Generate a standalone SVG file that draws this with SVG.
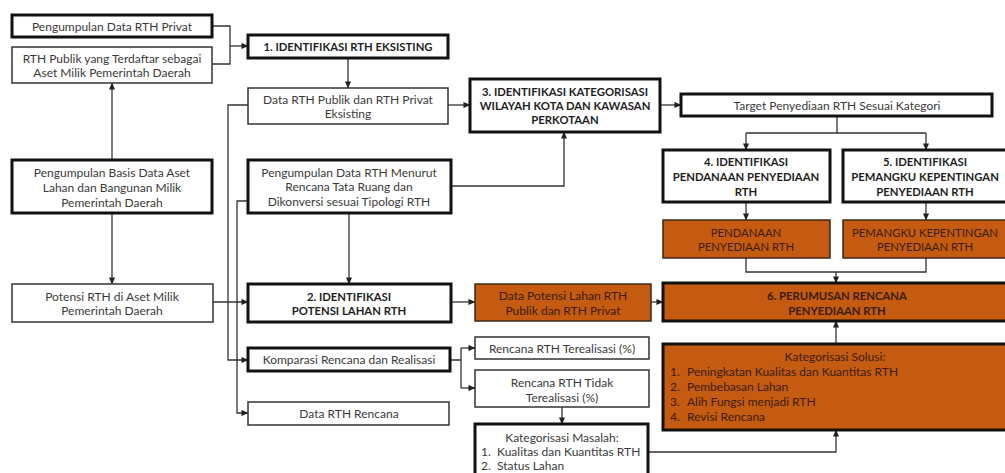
<svg xmlns="http://www.w3.org/2000/svg" width="1005" height="473" viewBox="0 0 1005 473">
<defs>
<marker id="ah" viewBox="0 0 8 8" refX="7.5" refY="4" markerWidth="7" markerHeight="7" markerUnits="userSpaceOnUse" orient="auto">
<path d="M0,0.5 L8,4 L0,7.5 z" fill="#222"/>
</marker>
<style>
text{font-family:Lato,"Open Sans","Liberation Sans",sans-serif;font-size:12px;fill:#3a3a3a;text-anchor:middle;dominant-baseline:central}
.b{font-weight:bold;fill:#1e1e1e;font-size:11.3px}
.cap{font-size:11.3px}
.o text{fill:#3a1d08}
.l{text-anchor:start}
.thin{fill:#fff;stroke:#333;stroke-width:1.5}
.thick{fill:#fff;stroke:#111;stroke-width:3}
.or{fill:#C55A11;stroke:#3a2a1a;stroke-width:1.5}
.ort{fill:#C55A11;stroke:#111;stroke-width:3}
.c path{fill:none;stroke:#333;stroke-width:1.3}
.c .a{marker-end:url(#ah)}
</style>
</defs>
<rect width="1005" height="473" fill="#fff"/>
<g class="c" id="connectors">
<path d="M212,26 H230 V64 H212"/>
<path class="a" d="M230,46 H248"/>
<path class="a" d="M112,160 V83"/>
<path class="a" d="M112,213 V284"/>
<path class="a" d="M213,302 H248"/>
<path class="a" d="M348,58 V88"/>
<path class="a" d="M448,105 H470"/>
<path class="a" d="M248,105 H228 V360 H248"/>
<path class="a" d="M248,201 H237 V413 H248"/>
<path class="a" d="M349,213 V284"/>
<path class="a" d="M451,186 H564 V132"/>
<path class="a" d="M660,105 H681"/>
<path d="M837,116 V133 M746,133 H926"/>
<path class="a" d="M746,133 V150"/>
<path class="a" d="M926,133 V150"/>
<path class="a" d="M746,202 V220"/>
<path class="a" d="M926,202 V220"/>
<path d="M746,258 V272 H926 V258"/>
<path class="a" d="M836,272 V283"/>
<path class="a" d="M451,302 H475"/>
<path class="a" d="M651,302 H663"/>
<path class="a" d="M836,344 V321"/>
<path class="a" d="M648,452 H836 V430"/>
<path d="M450,360 H461 M461,348 V388"/>
<path class="a" d="M461,348 H475"/>
<path class="a" d="M461,388 H475"/>
<path class="a" d="M562,407 V424"/>
</g>
<g id="n-privat"><rect class="thick" x="12" y="15" width="200" height="22"/><text x="112" y="26">Pengumpulan Data RTH Privat</text></g>
<g id="n-publik-aset"><rect class="thin" x="12" y="47" width="200" height="36"/><text x="112" y="58">RTH Publik yang Terdaftar sebagai</text><text x="112" y="72">Aset Milik Pemerintah Daerah</text></g>
<g id="n-basis"><rect class="thick" x="12" y="160" width="200" height="53"/><text x="112" y="172">Pengumpulan Basis Data Aset</text><text x="112" y="187">Lahan dan Bangunan Milik</text><text x="112" y="202">Pemerintah Daerah</text></g>
<g id="n-potensi-aset"><rect class="thin" x="12" y="284" width="201" height="38"/><text x="112" y="296">Potensi RTH di Aset Milik</text><text x="112" y="310">Pemerintah Daerah</text></g>
<g id="n-1"><rect class="thick" x="248" y="35" width="200" height="23"/><text class="b" x="348" y="46.5">1. IDENTIFIKASI RTH EKSISTING</text></g>
<g id="n-eksisting"><rect class="thin" x="248" y="88" width="200" height="36"/><text x="348" y="99">Data RTH Publik dan RTH Privat</text><text x="348" y="113">Eksisting</text></g>
<g id="n-menurut"><rect class="thick" x="248" y="160" width="203" height="53"/><text x="349" y="172">Pengumpulan Data RTH Menurut</text><text x="349" y="186.5">Rencana Tata Ruang dan</text><text x="349" y="201">Dikonversi sesuai Tipologi RTH</text></g>
<g id="n-2"><rect class="thick" x="248" y="284" width="203" height="38"/><text class="b" x="349" y="296">2. IDENTIFIKASI</text><text class="b" x="349" y="310">POTENSI LAHAN RTH</text></g>
<g id="n-komparasi"><rect class="thick" x="248" y="348" width="202" height="23"/><text x="349" y="359.5">Komparasi Rencana dan Realisasi</text></g>
<g id="n-rencana"><rect class="thin" x="248" y="402" width="201" height="23"/><text x="349" y="413.5">Data RTH Rencana</text></g>
<g id="n-3"><rect class="thick" x="470" y="79" width="190" height="53"/><text class="b" x="565" y="91">3. IDENTIFIKASI KATEGORISASI</text><text class="b" x="565" y="105">WILAYAH KOTA DAN KAWASAN</text><text class="b" x="565" y="119">PERKOTAAN</text></g>
<g id="n-target"><rect class="thick" x="681" y="94" width="311" height="22"/><text x="837" y="105">Target Penyediaan RTH Sesuai Kategori</text></g>
<g id="n-4"><rect class="thick" x="663" y="150" width="167" height="52"/><text class="b" x="746" y="161">4. IDENTIFIKASI</text><text class="b" x="746" y="176">PENDANAAN PENYEDIAAN</text><text class="b" x="746" y="191">RTH</text></g>
<g id="n-5"><rect class="thick" x="843" y="150" width="170" height="52"/><text class="b" x="925" y="161">5. IDENTIFIKASI</text><text class="b" x="925" y="176">PEMANGKU KEPENTINGAN</text><text class="b" x="925" y="191">PENYEDIAAN RTH</text></g>
<g id="n-pendanaan" class="o"><rect class="or" x="663" y="220" width="167" height="38"/><text class="cap" x="746" y="232">PENDANAAN</text><text class="cap" x="746" y="246">PENYEDIAAN  RTH</text></g>
<g id="n-pemangku" class="o"><rect class="or" x="843" y="220" width="170" height="38"/><text class="cap" x="925" y="232">PEMANGKU KEPENTINGAN</text><text class="cap" x="925" y="246">PENYEDIAAN  RTH</text></g>
<g id="n-data-potensi" class="o"><rect class="or" x="475" y="284" width="176" height="37"/><text x="563" y="295.5">Data Potensi Lahan RTH</text><text x="563" y="310">Publik dan RTH Privat</text></g>
<g id="n-6" class="o"><rect class="ort" x="663" y="283" width="350" height="38"/><text class="b" x="837" y="295">6. PERUMUSAN RENCANA</text><text class="b" x="837" y="310">PENYEDIAAN RTH</text></g>
<g id="n-terealisasi"><rect class="thin" x="475" y="337" width="174" height="22"/><text x="562" y="348">Rencana RTH Terealisasi (%)</text></g>
<g id="n-tidak"><rect class="thin" x="475" y="370" width="174" height="37"/><text x="562" y="382">Rencana RTH Tidak</text><text x="562" y="397">Terealisasi (%)</text></g>
<g id="n-masalah"><rect class="thick" x="475" y="424" width="173" height="60"/><text x="562" y="437">Kategorisasi Masalah:</text><text class="l" x="481" y="451">1.</text><text class="l" x="497" y="451">Kualitas dan Kuantitas RTH</text><text class="l" x="481" y="465">2.</text><text class="l" x="497" y="465">Status Lahan</text></g>
<g id="n-solusi" class="o"><rect class="ort" x="663" y="344" width="350" height="86"/><text x="835" y="356">Kategorisasi Solusi:</text><text class="l" x="670" y="371">1.</text><text class="l" x="687" y="371">Peningkatan Kualitas dan Kuantitas RTH</text><text class="l" x="670" y="386">2.</text><text class="l" x="687" y="386">Pembebasan Lahan</text><text class="l" x="670" y="401">3.</text><text class="l" x="687" y="401">Alih Fungsi menjadi RTH</text><text class="l" x="670" y="416">4.</text><text class="l" x="687" y="416">Revisi Rencana</text></g>
</svg>
